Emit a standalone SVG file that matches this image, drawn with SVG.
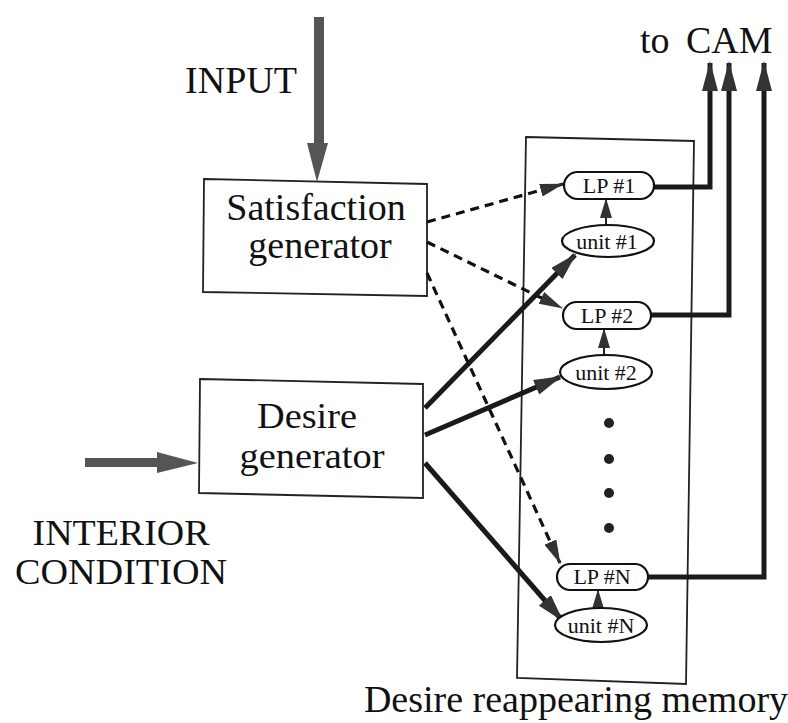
<svg xmlns="http://www.w3.org/2000/svg" width="788" height="723" viewBox="0 0 788 723">
<style>
  .big { font-family: "Liberation Serif", "Times New Roman", serif; font-size: 38px; fill: #111; }
  .two { font-family: "Liberation Serif", "Times New Roman", serif; font-size: 36px; fill: #111; }
  .small { font-family: "Liberation Serif", "Times New Roman", serif; font-size: 22px; fill: #111; }
  .box { fill: #fff; stroke: #222; stroke-width: 1.8; }
  .node { fill: #fff; stroke: #111; stroke-width: 2.2; }
  .thick { fill: none; stroke: #1a1a1a; stroke-width: 5; }
  .dash { fill: none; stroke: #111; stroke-width: 3.2; stroke-dasharray: 9 6; }
</style>
<defs>
  <marker id="ahBig" markerUnits="userSpaceOnUse" markerWidth="28" markerHeight="16" refX="26" refY="8" orient="auto">
    <path d="M0,0 L28,8 L0,16 z" fill="#333"/>
  </marker>
  <marker id="ahCam" markerUnits="userSpaceOnUse" markerWidth="30" markerHeight="16" refX="28" refY="8" orient="auto">
    <path d="M0,0 L30,8 L0,16 z" fill="#333"/>
  </marker>
  <marker id="ahDash" markerUnits="userSpaceOnUse" markerWidth="24" markerHeight="13" refX="23" refY="6.5" orient="auto">
    <path d="M0,0 L24,6.5 L0,13 z" fill="#333"/>
  </marker>
  <marker id="ahSmall" markerUnits="userSpaceOnUse" markerWidth="20" markerHeight="12" refX="19" refY="6" orient="auto">
    <path d="M0,0 L20,6 L0,12 z" fill="#333"/>
  </marker>
</defs>
<rect width="788" height="723" fill="#fff"/>

<g id="memory-box">
  <polygon class="box" points="526,137 694,141 686,684 517,678"/>
  <text class="big" x="576" y="712" text-anchor="middle">Desire reappearing memory</text>
</g>

<g id="input">
  <polygon points="314,17 324,17 324,143 328,143 317,182 307,143 314,143" fill="#555"/>
  <text class="big" x="241" y="93" text-anchor="middle">INPUT</text>
</g>

<g id="interior-condition">
  <polygon points="85,458 157,458 157,452 198,463 157,473 157,467 85,467" fill="#555"/>
  <text class="two" x="121" y="545" text-anchor="middle" textLength="177" lengthAdjust="spacingAndGlyphs">INTERIOR</text>
  <text class="two" x="121" y="584" text-anchor="middle" textLength="212" lengthAdjust="spacingAndGlyphs">CONDITION</text>
</g>

<g id="to-cam">
  <text class="big" x="640" y="53">to</text>
  <text class="big" x="686" y="53">CAM</text>
</g>

<g id="satisfaction-generator">
  <polygon class="box" points="204,179 427,184 427,296 203,292"/>
  <text class="big" x="316" y="220" text-anchor="middle">Satisfaction</text>
  <text class="big" x="320" y="258" text-anchor="middle">generator</text>
</g>

<g id="desire-generator">
  <polygon class="box" points="200,379 423,384 423,498 199,493"/>
  <text class="two" x="307" y="428" text-anchor="middle" textLength="100" lengthAdjust="spacingAndGlyphs">Desire</text>
  <text class="two" x="312" y="468" text-anchor="middle" textLength="145" lengthAdjust="spacingAndGlyphs">generator</text>
</g>

<g id="connectors">
  <line class="dash" x1="427" y1="222" x2="563" y2="184" marker-end="url(#ahDash)"/>
  <line class="dash" x1="427" y1="242" x2="562" y2="308" marker-end="url(#ahDash)"/>
  <line class="dash" x1="427" y1="273" x2="560" y2="563" marker-end="url(#ahDash)"/>
  <line class="thick" x1="425" y1="408" x2="575" y2="255" marker-end="url(#ahBig)"/>
  <line class="thick" x1="425" y1="435" x2="560" y2="377" marker-end="url(#ahBig)"/>
  <line class="thick" x1="425" y1="463" x2="562" y2="620" marker-end="url(#ahBig)"/>
  <polyline class="thick" points="654,187 710,187 710,63" marker-end="url(#ahCam)"/>
  <polyline class="thick" points="651,315 729,315 729,63" marker-end="url(#ahCam)"/>
  <polyline class="thick" points="648,577 764,577 764,63" marker-end="url(#ahCam)"/>
  <line stroke="#222" stroke-width="2" x1="606" y1="225" x2="606" y2="199" marker-end="url(#ahSmall)"/>
  <line stroke="#222" stroke-width="2" x1="604" y1="355" x2="604" y2="329" marker-end="url(#ahSmall)"/>
  <line stroke="#222" stroke-width="2" x1="598" y1="608" x2="598" y2="590" marker-end="url(#ahSmall)"/>
</g>

<g id="lp1">
  <rect class="node" x="564" y="172" width="90" height="27" rx="13.5"/>
  <text class="small" x="609" y="193" text-anchor="middle">LP #1</text>
</g>
<g id="unit1">
  <ellipse class="node" cx="608" cy="241" rx="46" ry="16"/>
  <text class="small" x="607" y="249" text-anchor="middle">unit #1</text>
</g>
<g id="lp2">
  <rect class="node" x="563" y="302" width="88" height="27" rx="13.5"/>
  <text class="small" x="607" y="323" text-anchor="middle">LP #2</text>
</g>
<g id="unit2">
  <ellipse class="node" cx="606" cy="372" rx="46" ry="17"/>
  <text class="small" x="606" y="380" text-anchor="middle">unit #2</text>
</g>
<g id="dots">
  <circle cx="609" cy="423" r="5" fill="#222"/>
  <circle cx="609" cy="459" r="5" fill="#222"/>
  <circle cx="609" cy="493" r="5" fill="#222"/>
  <circle cx="609" cy="528" r="5" fill="#222"/>
</g>
<g id="lpN">
  <rect class="node" x="557" y="564" width="91" height="26" rx="13"/>
  <text class="small" x="602" y="584" text-anchor="middle">LP #N</text>
</g>
<g id="unitN">
  <ellipse class="node" cx="601" cy="625" rx="46" ry="17"/>
  <text class="small" x="601" y="633" text-anchor="middle">unit #N</text>
</g>
</svg>
